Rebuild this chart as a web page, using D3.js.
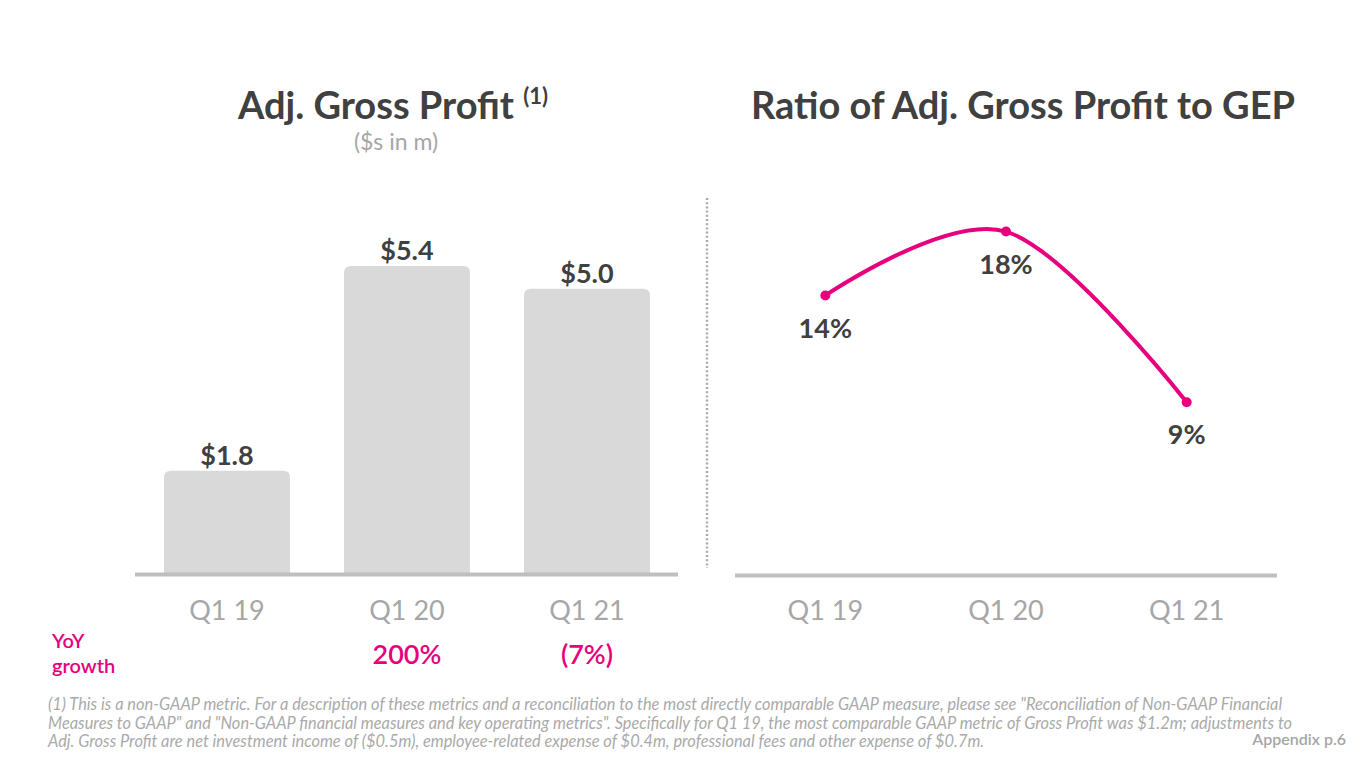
<!DOCTYPE html>
<html>
<head>
<meta charset="utf-8">
<script src="https://cdn.jsdelivr.net/npm/d3@7"></script>
<style>
  body { margin: 0; background: #fff; }
  svg { font-family: Lato, "Open Sans", sans-serif; }
</style>
</head>
<body>
<svg width="1365" height="768"></svg>
<script>
// data
const quarters = ["Q1 19", "Q1 20", "Q1 21"];
const grossProfit = [1.8, 5.4, 5.0];        // $m
const yoyGrowth = [null, 200, -7];          // %
const ratioToGep = [14.3, 17.6, 8.8];       // %, labels are rounded
const footnote = [
  "(1) This is a non-GAAP metric. For a description of these metrics and a reconciliation to the most directly comparable GAAP measure, please see \"Reconciliation of Non-GAAP Financial",
  "Measures to GAAP\" and \"Non-GAAP financial measures and key operating metrics\". Specifically for Q1 19, the most comparable GAAP metric of Gross Profit was $1.2m; adjustments to",
  "Adj. Gross Profit are net investment income of ($0.5m), employee-related expense of $0.4m, professional fees and other expense of $0.7m."
];

const svg = d3.select("svg");
const pink = "#e6007e",
    dark = "#404040",
    grey = "#a6a6a6",
    barGrey = "#d9d9d9",
    axisGrey = "#bfbfbf";
const baseY = 573;

// ---------- left: bars ----------
const x = d3.scaleBand().domain(quarters).range([137, 677]).paddingInner(0.3).paddingOuter(0.15);
const y = d3.scaleLinear().domain([0, 5.4]).range([baseY, 266]);

// bar with rounded top corners
function topRounded(x0, y0, w, h, r) {
  return `M${x0},${y0 + h}V${y0 + r}Q${x0},${y0} ${x0 + r},${y0}H${x0 + w - r}Q${x0 + w},${y0} ${x0 + w},${y0 + r}V${y0 + h}Z`;
}

const left = svg.append("g");
left.selectAll("path.bar")
  .data(grossProfit)
  .join("path")
  .attr("class", "bar")
  .attr("fill", barGrey)
  .attr("d", (d, i) => topRounded(x(quarters[i]), y(d), x.bandwidth(), baseY - y(d), 7));

left.selectAll("text.val")
  .data(grossProfit)
  .join("text")
  .attr("class", "val")
  .attr("x", (d, i) => x(quarters[i]) + x.bandwidth() / 2)
  .attr("y", d => y(d) - 6)
  .attr("text-anchor", "middle")
  .attr("font-size", 27)
  .attr("font-weight", 700)
  .attr("fill", dark)
  .text(d => "$" + d3.format(".1f")(d));

left.append("line")
  .attr("x1", 135).attr("x2", 678)
  .attr("y1", baseY + 1.5).attr("y2", baseY + 1.5)
  .attr("stroke", axisGrey).attr("stroke-width", 4);

left.selectAll("text.q")
  .data(quarters)
  .join("text")
  .attr("class", "q")
  .attr("x", d => x(d) + x.bandwidth() / 2)
  .attr("y", 620)
  .attr("text-anchor", "middle")
  .attr("font-size", 27)
  .attr("fill", grey)
  .text(d => d);

// yoy growth row
const fmtGrowth = v => v < 0 ? "(" + Math.abs(v) + "%)" : v + "%";
left.selectAll("text.yoy")
  .data(yoyGrowth.map((v, i) => ({ v, q: quarters[i] })).filter(d => d.v !== null))
  .join("text")
  .attr("class", "yoy")
  .attr("x", d => x(d.q) + x.bandwidth() / 2)
  .attr("y", 664)
  .attr("text-anchor", "middle")
  .attr("font-size", 27)
  .attr("font-weight", 600)
  .attr("fill", pink)
  .text(d => fmtGrowth(d.v));

svg.append("text").attr("x", 52).attr("y", 648)
  .attr("font-size", 20).attr("font-weight", 600).attr("fill", pink).text("YoY");
svg.append("text").attr("x", 52).attr("y", 673)
  .attr("font-size", 20).attr("font-weight", 600).attr("fill", pink).text("growth");

// left title
const t1 = svg.append("text").attr("x", 393).attr("y", 119)
  .attr("text-anchor", "middle").attr("fill", dark).attr("font-weight", 700);
t1.append("tspan").attr("font-size", 38).text("Adj. Gross Profit ");
t1.append("tspan").attr("font-size", 22).attr("dy", -15).text("(1)");
svg.append("text").attr("x", 396).attr("y", 150)
  .attr("text-anchor", "middle").attr("font-size", 23).attr("fill", grey).text("($s in m)");

// divider
svg.append("line")
  .attr("x1", 707).attr("x2", 707).attr("y1", 198).attr("y2", 568)
  .attr("stroke", "#aaaaaa").attr("stroke-width", 2.5).attr("stroke-dasharray", "2,2.2");

// ---------- right: line ----------
const xr = d3.scalePoint().domain(quarters).range([735, 1277]).padding(0.5);
const yr = d3.scaleLinear().domain([0, 20]).range([baseY, 185]);

const right = svg.append("g");
right.append("line")
  .attr("x1", 735).attr("x2", 1277)
  .attr("y1", baseY + 2.5).attr("y2", baseY + 2.5)
  .attr("stroke", axisGrey).attr("stroke-width", 4);

const line = d3.line()
  .x((d, i) => xr(quarters[i]))
  .y(d => yr(d))
  .curve(d3.curveCardinal.tension(0));

right.append("path")
  .datum(ratioToGep)
  .attr("d", line)
  .attr("fill", "none")
  .attr("stroke", pink)
  .attr("stroke-width", 4)
  .attr("stroke-linecap", "round");

right.selectAll("circle")
  .data(ratioToGep)
  .join("circle")
  .attr("cx", (d, i) => xr(quarters[i]))
  .attr("cy", d => yr(d))
  .attr("r", 5)
  .attr("fill", pink);

right.selectAll("text.pct")
  .data(ratioToGep)
  .join("text")
  .attr("class", "pct")
  .attr("x", (d, i) => xr(quarters[i]))
  .attr("y", d => yr(d) + 42)
  .attr("text-anchor", "middle")
  .attr("font-size", 27)
  .attr("font-weight", 700)
  .attr("fill", dark)
  .text(d => d3.format(".0f")(d) + "%");

right.selectAll("text.q")
  .data(quarters)
  .join("text")
  .attr("class", "q")
  .attr("x", d => xr(d))
  .attr("y", 620)
  .attr("text-anchor", "middle")
  .attr("font-size", 27)
  .attr("fill", grey)
  .text(d => d);

svg.append("text").attr("x", 1023).attr("y", 119)
  .attr("text-anchor", "middle").attr("font-size", 38).attr("font-weight", 700)
  .attr("fill", dark).text("Ratio of Adj. Gross Profit to GEP");

// ---------- footnote ----------
svg.selectAll("text.fn")
  .data(footnote)
  .join("text")
  .attr("class", "fn")
  .attr("x", 48)
  .attr("y", (d, i) => 710 + i * 18.5)
  .attr("font-size", 16.4)
  .attr("font-style", "italic")
  .attr("fill", "#aaaaaa")
  .text(d => d);

svg.append("text").attr("x", 1346).attr("y", 745)
  .attr("text-anchor", "end").attr("font-size", 16).attr("font-weight", 600)
  .attr("fill", grey).text("Appendix p.6");
</script>
</body>
</html>
